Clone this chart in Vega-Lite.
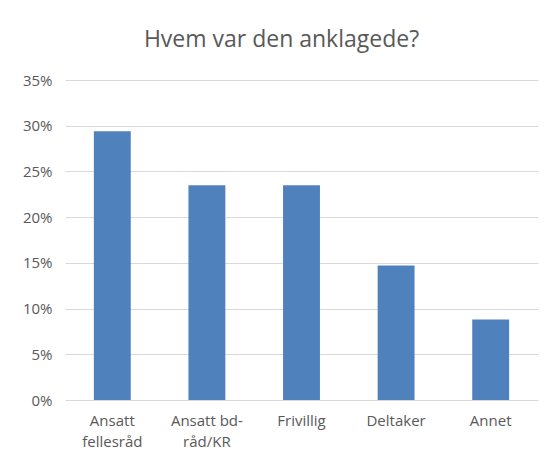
{
  "$schema": "https://vega.github.io/schema/vega-lite/v6.json",
  "autosize": "none",
  "width": 473,
  "height": 320,
  "padding": {"left": 65, "top": 80, "right": 17, "bottom": 57},
  "background": "white",
  "title": {
    "text": "Hvem var den anklagede?",
    "fontSize": 23,
    "font": "Open Sans",
    "fontWeight": "normal",
    "color": "#595959",
    "anchor": "middle",
    "offset": 21,
    "dx": -20
  },
  "data": {
    "values": [
      {"kategori": "Ansatt|fellesråd", "andel": 0.294},
      {"kategori": "Ansatt bd-|råd/KR", "andel": 0.235},
      {"kategori": "Frivillig", "andel": 0.235},
      {"kategori": "Deltaker", "andel": 0.147},
      {"kategori": "Annet", "andel": 0.088}
    ]
  },
  "mark": {"type": "bar", "color": "#4f81bd"},
  "encoding": {
    "x": {
      "field": "kategori",
      "type": "nominal",
      "sort": null,
      "scale": {"paddingInner": 0.61, "paddingOuter": 0.305},
      "axis": {
        "title": null,
        "labelAngle": 0,
        "labelExpr": "split(datum.label, '|')",
        "labelFont": "Open Sans",
        "labelFontSize": 15,
        "labelColor": "#595959",
        "labelPadding": 13,
        "labelLineHeight": 21,
        "ticks": false,
        "domain": false
      }
    },
    "y": {
      "field": "andel",
      "type": "quantitative",
      "scale": {"domain": [0, 0.35]},
      "axis": {
        "title": null,
        "format": ".0%",
        "values": [0, 0.05, 0.1, 0.15, 0.2, 0.25, 0.3, 0.35],
        "labelFont": "Open Sans",
        "labelFontSize": 15,
        "labelColor": "#595959",
        "labelPadding": 13,
        "ticks": false,
        "domain": false,
        "gridColor": "#d9d9d9",
        "gridWidth": 1
      }
    }
  },
  "config": {
    "view": {"stroke": null}
  }
}
